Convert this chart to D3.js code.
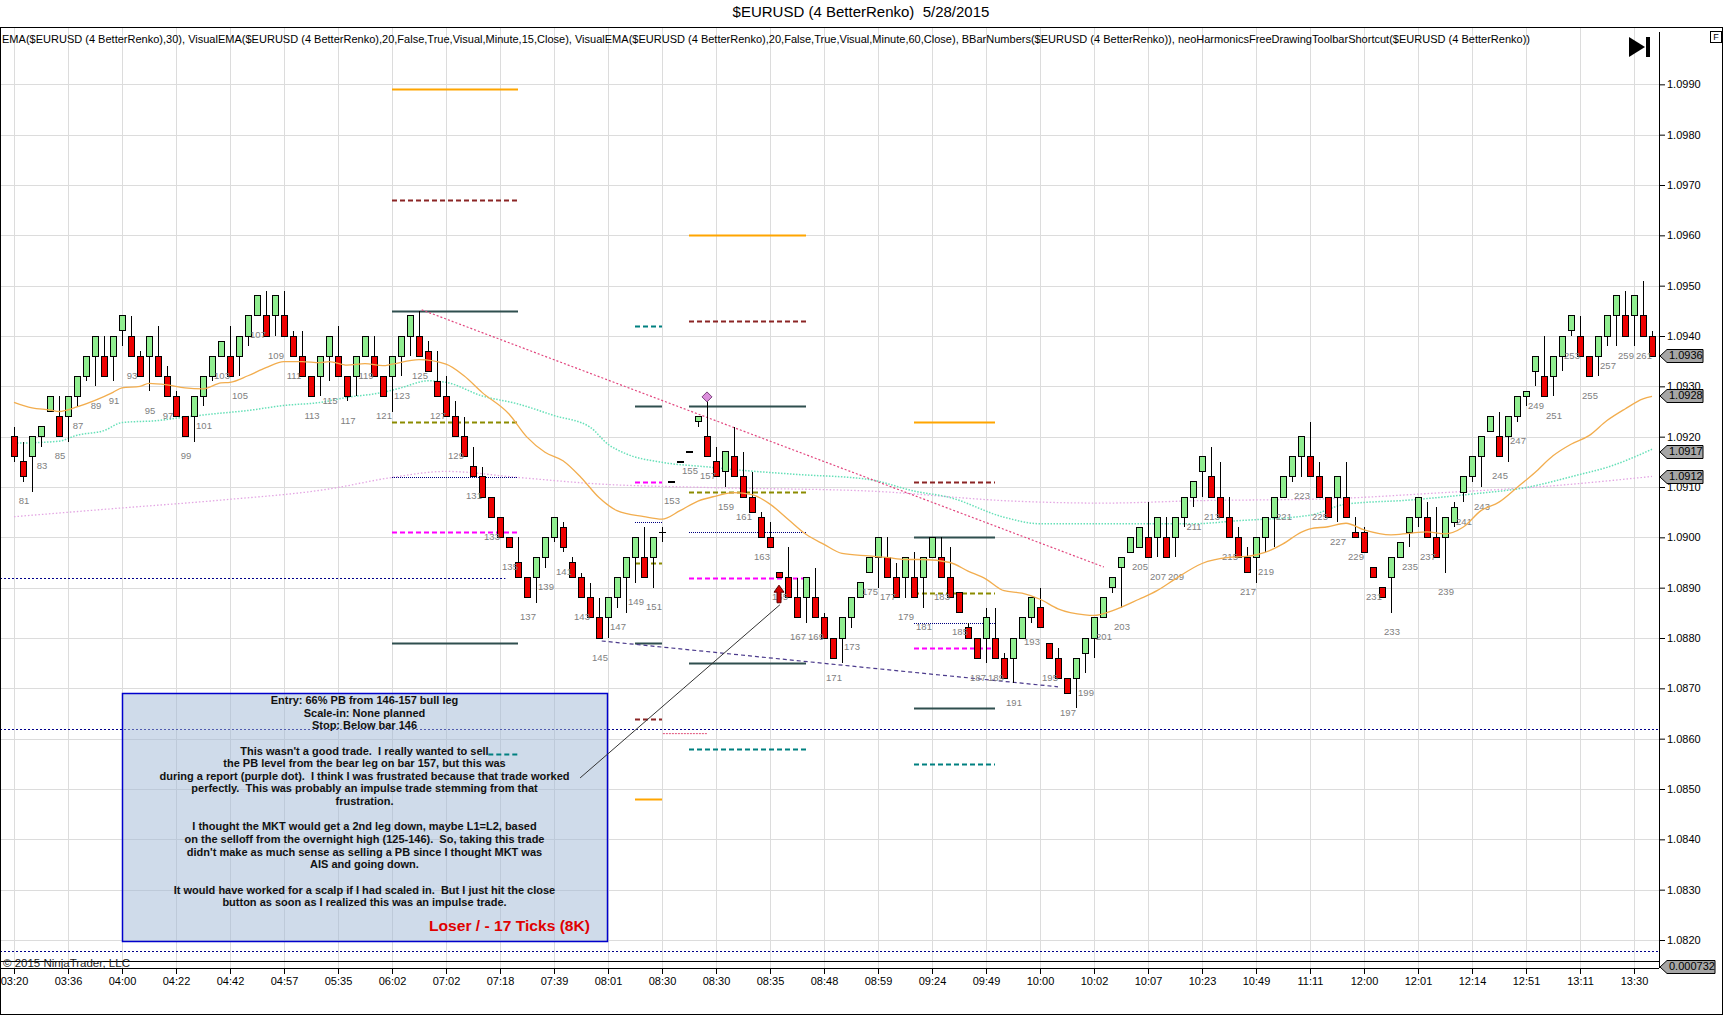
<!DOCTYPE html>
<html>
<head>
<meta charset="utf-8">
<script src="https://cdn.jsdelivr.net/npm/d3@7"></script>
<style>
body { margin: 0; background: #fff; }
text { font-family: "Liberation Sans", Arial, sans-serif; }
</style>
</head>
<body>
<svg id="chart" width="1723" height="1015"></svg>
<script>
// Renko bars 80..262 (open, close, high, low)
const firstBar = 80;
const opens = [1.0920,1.0915,1.0916,1.0920,1.0925,1.0924,1.0924,1.0928,1.0932,1.0936,
1.0936,1.0936,1.0941,1.0940,1.0936,1.0936,1.0936,1.0932,1.0928,1.0924,
1.0924,1.0928,1.0932,1.0936,1.0936,1.0936,1.0940,1.0944,1.0944,1.0944,
1.0944,1.0940,1.0936,1.0932,1.0932,1.0936,1.0936,1.0932,1.0932,1.0936,
1.0936,1.0932,1.0932,1.0936,1.0940,1.0940,1.0937,1.0931,1.0928,1.0924,
1.0920,1.0914,1.0912,1.0908,1.0904,1.0900,1.0895,1.0892,1.0892,1.0896,
1.0900,1.0902,1.0895,1.0892,1.0888,1.0884,1.0884,1.0888,1.0892,1.0896,
1.0896,1.0896,1.0901,1.0911,1.0915,1.0917,1.0923,1.0920,1.0915,1.0913,
1.0916,1.0912,1.0908,1.0904,1.0900,1.0893,1.0892,1.0888,1.0888,1.0888,
1.0884,1.0880,1.0880,1.0884,1.0888,1.0893,1.0896,1.0896,1.0892,1.0892,
1.0892,1.0892,1.0896,1.0896,1.0892,1.0889,1.0882,1.0880,1.0880,1.0880,
1.0876,1.0876,1.0880,1.0884,1.0886,1.0879,1.0876,1.0872,1.0872,1.0877,
1.0880,1.0884,1.0890,1.0894,1.0897,1.0898,1.0900,1.0900,1.0900,1.0900,
1.0904,1.0908,1.0913,1.0912,1.0908,1.0904,1.0900,1.0896,1.0896,1.0900,
1.0904,1.0908,1.0912,1.0916,1.0916,1.0912,1.0908,1.0908,1.0908,1.0901,
1.0901,1.0894,1.0890,1.0892,1.0896,1.0901,1.0904,1.0904,1.0900,1.0900,
1.0903,1.0909,1.0912,1.0916,1.0921,1.0920,1.0920,1.0924,1.0928,1.0933,
1.0932,1.0932,1.0936,1.0941,1.0940,1.0936,1.0936,1.0940,1.0944,1.0944,
1.0944,1.0944,1.0940];
const closes = [1.0916,1.0912,1.0920,1.0922,1.0928,1.0920,1.0928,1.0932,1.0936,1.0940,
1.0932,1.0940,1.0944,1.0936,1.0932,1.0940,1.0932,1.0928,1.0924,1.0920,
1.0928,1.0932,1.0936,1.0939,1.0932,1.0940,1.0944,1.0948,1.0940,1.0948,
1.0940,1.0936,1.0932,1.0928,1.0936,1.0940,1.0932,1.0928,1.0936,1.0940,
1.0932,1.0928,1.0936,1.0940,1.0944,1.0936,1.0933,1.0928,1.0924,1.0920,
1.0916,1.0912,1.0908,1.0904,1.0900,1.0898,1.0892,1.0888,1.0896,1.0900,
1.0904,1.0898,1.0892,1.0888,1.0884,1.0880,1.0888,1.0892,1.0896,1.0900,
1.0892,1.0900,1.0901,1.0911,1.0915,1.0917,1.0924,1.0916,1.0912,1.0917,
1.0912,1.0908,1.0905,1.0900,1.0898,1.0892,1.0888,1.0884,1.0892,1.0884,
1.0880,1.0876,1.0884,1.0888,1.0891,1.0896,1.0900,1.0892,1.0888,1.0896,
1.0888,1.0896,1.0900,1.0892,1.0888,1.0885,1.0880,1.0876,1.0884,1.0876,
1.0872,1.0880,1.0884,1.0888,1.0882,1.0876,1.0872,1.0869,1.0876,1.0880,
1.0884,1.0888,1.0892,1.0896,1.0900,1.0902,1.0896,1.0904,1.0896,1.0904,
1.0908,1.0911,1.0916,1.0908,1.0904,1.0900,1.0896,1.0893,1.0900,1.0904,
1.0908,1.0912,1.0916,1.0920,1.0912,1.0908,1.0904,1.0912,1.0904,1.0900,
1.0897,1.0892,1.0888,1.0896,1.0899,1.0904,1.0908,1.0900,1.0896,1.0904,
1.0906,1.0912,1.0916,1.0920,1.0924,1.0916,1.0924,1.0928,1.0929,1.0936,
1.0928,1.0936,1.0940,1.0944,1.0936,1.0932,1.0940,1.0944,1.0948,1.0940,
1.0948,1.0940,1.0936];
const highs = [1.0922,1.0919,1.0920,1.0922,1.0928,1.0928,1.0928,1.0932,1.0936,1.0940,
1.0940,1.0940,1.0944,1.0944,1.0937,1.0940,1.0942,1.0934,1.0929,1.0924,
1.0928,1.0932,1.0936,1.0939,1.0942,1.0940,1.0944,1.0948,1.0949,1.0948,
1.0949,1.0941,1.0941,1.0932,1.0936,1.0940,1.0942,1.0932,1.0936,1.0940,
1.0940,1.0932,1.0936,1.0940,1.0944,1.0945,1.0939,1.0937,1.0932,1.0927,
1.0924,1.0918,1.0914,1.0908,1.0904,1.0900,1.0900,1.0892,1.0896,1.0900,
1.0904,1.0903,1.0896,1.0893,1.0891,1.0888,1.0888,1.0892,1.0896,1.0900,
1.0902,1.0900,1.0902,1.0911,1.0915,1.0917,1.0924,1.0928,1.0918,1.0917,
1.0922,1.0917,1.0913,1.0905,1.0903,1.0893,1.0898,1.0892,1.0892,1.0894,
1.0885,1.0880,1.0884,1.0888,1.0891,1.0896,1.0900,1.0900,1.0895,1.0896,
1.0897,1.0896,1.0900,1.0900,1.0898,1.0889,1.0883,1.0880,1.0886,1.0886,
1.0877,1.0880,1.0884,1.0888,1.0890,1.0879,1.0878,1.0872,1.0876,1.0880,
1.0884,1.0888,1.0892,1.0896,1.0900,1.0902,1.0907,1.0904,1.0904,1.0904,
1.0908,1.0911,1.0916,1.0918,1.0915,1.0908,1.0902,1.0898,1.0900,1.0904,
1.0908,1.0912,1.0916,1.0920,1.0923,1.0915,1.0908,1.0912,1.0915,1.0904,
1.0902,1.0894,1.0890,1.0896,1.0899,1.0904,1.0908,1.0907,1.0906,1.0904,
1.0907,1.0912,1.0916,1.0920,1.0924,1.0925,1.0924,1.0928,1.0929,1.0936,
1.0940,1.0936,1.0940,1.0944,1.0944,1.0936,1.0940,1.0944,1.0948,1.0949,
1.0948,1.0951,1.0941];
const lows = [1.0915,1.0911,1.0909,1.0918,1.0925,1.0920,1.0919,1.0926,1.0931,1.0930,
1.0932,1.0931,1.0938,1.0936,1.0932,1.0929,1.0932,1.0928,1.0924,1.0920,
1.0919,1.0926,1.0931,1.0936,1.0932,1.0932,1.0938,1.0944,1.0940,1.0940,
1.0940,1.0936,1.0932,1.0928,1.0928,1.0931,1.0932,1.0927,1.0928,1.0936,
1.0932,1.0928,1.0925,1.0932,1.0936,1.0936,1.0933,1.0928,1.0924,1.0920,
1.0916,1.0912,1.0908,1.0904,1.0900,1.0898,1.0892,1.0888,1.0887,1.0894,
1.0899,1.0897,1.0892,1.0888,1.0884,1.0880,1.0880,1.0886,1.0885,1.0891,
1.0892,1.0890,1.0899,1.0911,1.0915,1.0917,1.0922,1.0916,1.0912,1.0910,
1.0912,1.0908,1.0905,1.0900,1.0898,1.0892,1.0888,1.0884,1.0883,1.0884,
1.0880,1.0876,1.0875,1.0882,1.0888,1.0893,1.0890,1.0892,1.0888,1.0888,
1.0888,1.0886,1.0896,1.0892,1.0888,1.0885,1.0880,1.0876,1.0875,1.0876,
1.0872,1.0871,1.0880,1.0883,1.0882,1.0876,1.0872,1.0869,1.0866,1.0873,
1.0876,1.0884,1.0889,1.0886,1.0897,1.0898,1.0896,1.0896,1.0896,1.0896,
1.0902,1.0906,1.0908,1.0908,1.0904,1.0900,1.0896,1.0893,1.0891,1.0897,
1.0898,1.0908,1.0911,1.0912,1.0912,1.0908,1.0904,1.0903,1.0904,1.0900,
1.0897,1.0892,1.0888,1.0885,1.0896,1.0898,1.0902,1.0900,1.0896,1.0893,
1.0902,1.0907,1.0911,1.0910,1.0921,1.0916,1.0915,1.0923,1.0926,1.0930,
1.0928,1.0928,1.0933,1.0940,1.0936,1.0932,1.0932,1.0938,1.0938,1.0940,
1.0938,1.0940,1.0936];

// EMA(30) - orange
const emaBars = [80,82,84,85,87,89,91,92,94,95,97,99,101,103,104,106,108,110,112,114,115,117,119,121,122,125,128,130,132,135,137,139,141,143,145,147,150,152,154,156,158,160,162,164,166,168,170,172,175,177,179,181,184,186,188,190,192,194,196,199,200,202,205,207,209,212,215,217,219,221,223,224,226,228,230,233,235,237,239,241,243,245,247,249,251,253,255,257,259,261,262];
const emaVals = [1.09268,1.09257,1.09253,1.09250,1.09259,1.09272,1.09288,1.09297,1.09300,1.09306,1.09303,1.09297,1.09295,1.09307,1.09308,1.09321,1.09337,1.09349,1.09349,1.09347,1.09349,1.09342,1.09345,1.09341,1.09344,1.09353,1.09344,1.09321,1.09288,1.09245,1.09199,1.09169,1.09152,1.09119,1.09079,1.09053,1.09041,1.09036,1.09053,1.09072,1.09082,1.09089,1.09085,1.09066,1.09036,1.09006,1.08986,1.08968,1.08963,1.08960,1.08956,1.08956,1.08950,1.08933,1.08917,1.08894,1.08889,1.08877,1.08858,1.08846,1.08845,1.08854,1.08877,1.08894,1.08917,1.08948,1.08960,1.08962,1.08970,1.08987,1.09010,1.09017,1.09021,1.09028,1.09015,1.09005,1.09008,1.09011,1.09007,1.09020,1.09053,1.09070,1.09099,1.09129,1.09162,1.09185,1.09202,1.09232,1.09255,1.09275,1.09280];

// VisualEMA 15 min - aquamarine
const ema15Bars = [80,85,87,90,92,96,99,102,106,110,114,117,121,123,126,128,132,136,140,144,146,148,152,157,161,167,175,180,184,190,194,205,211,216,224,228,235,242,248,254,257,262];
const ema15Vals = [1.09187,1.09191,1.09203,1.09212,1.09228,1.09232,1.09239,1.09245,1.09252,1.09262,1.09268,1.09278,1.09288,1.09297,1.09311,1.09308,1.09281,1.09265,1.09242,1.09219,1.09185,1.09166,1.09149,1.09140,1.09133,1.09125,1.09115,1.09092,1.09079,1.09040,1.09027,1.09027,1.09027,1.09033,1.09044,1.09066,1.09074,1.09086,1.09099,1.09125,1.09139,1.09175];

// VisualEMA 60 min - plum
const ema60Bars = [80,91,103,115,122,128,136,145,157,175,191,201,212,225,239,250,262];
const ema60Vals = [1.09041,1.09057,1.09074,1.09096,1.09119,1.09131,1.09119,1.09106,1.09099,1.09092,1.09072,1.09068,1.09073,1.09076,1.09089,1.09101,1.09121];

// small indicator panel
const indBars = [80,100,120,140,160,180,200,220,240,262];
const indVals = [0.00075,0.00072,0.00078,0.00074,0.00080,0.00071,0.00076,0.00073,0.00077,0.000732];

const timeLabels = ["03:20","03:36","04:00","04:22","04:42","04:57","05:35","06:02","07:02","07:18","07:39","08:01","08:30","08:30","08:35","08:48","08:59","09:24","09:49","10:00","10:02","10:07","10:23","10:49","11:11","12:00","12:01","12:14","12:51","13:11","13:30"];
const priceTicks = d3.range(1.0820, 1.09905, 0.001);

// drawn level groups, prices listed in the order of levelKinds
const levelKinds = ["orange","darkred","black","olive","navy","magenta","black","teal"];
const levelGroups = [
  { from: 122, to: 136, prices: [1.0989,1.0967,1.0945,1.0923,1.0912,1.0901,1.0879,1.0857] },
  { from: 149, to: 152, prices: [1.0848,1.0864,1.0879,1.0895,1.0903,1.0911,1.0926,1.0942] },
  { from: 155, to: 168, prices: [1.0960,1.0943,1.0926,1.0909,1.0901,1.0892,1.0875,1.0858] },
  { from: 180, to: 189, prices: [1.0923,1.0911,1.0900,1.0889,1.0883,1.0878,1.0866,1.0855] }
];
const longLevels = [[78, 134.6, 1.0892], [78, 265, 1.0862], [78, 265, 1.08178]];
const trendLines = [[125.3, 1.09452, 201.1, 1.08941], [145.3, 1.08794, 196, 1.08703], [142.9, 1.08522, 165.1, 1.08866]];
const tagValues = [1.0936, 1.0928, 1.0917, 1.0912];

const boxLines = [
  "Entry: 66% PB from 146-157 bull leg",
  "Scale-in: None planned",
  "Stop: Below bar 146",
  "",
  "This wasn't a good trade.  I really wanted to sell",
  "the PB level from the bear leg on bar 157, but this was",
  "during a report (purple dot).  I think I was frustrated because that trade worked",
  "perfectly.  This was probably an impulse trade stemming from that",
  "frustration.",
  "",
  "I thought the MKT would get a 2nd leg down, maybe L1=L2, based",
  "on the selloff from the overnight high (125-146).  So, taking this trade",
  "didn't make as much sense as selling a PB since I thought MKT was",
  "AIS and going down.",
  "",
  "It would have worked for a scalp if I had scaled in.  But I just hit the close",
  "button as soon as I realized this was an impulse trade."
];

const bars = opens.map((o, i) => ({ n: firstBar + i, o, c: closes[i], h: highs[i], l: lows[i] }));

const svg = d3.select("#chart");
const panelRight = 1659, panelTop = 28, panelBottom = 961, axisY = 968;

const x = d3.scaleLinear().domain([80, 262]).range([14, 1652]);
const y = d3.scaleLinear().domain([1.0820, 1.0940]).range([940, 336]);
const yInd = d3.scaleLinear().domain([0, 0.003]).range([968, 961]);

svg.append("defs").append("clipPath").attr("id", "panel")
  .append("rect").attr("x", 0).attr("y", panelTop).attr("width", panelRight).attr("height", panelBottom - panelTop);

// title
svg.append("text").attr("x", 861).attr("y", 13).attr("text-anchor", "middle")
  .attr("dominant-baseline", "middle").style("font-size", "15px").style("white-space", "pre")
  .text("$EURUSD (4 BetterRenko)  5/28/2015");

// grid
const tickBars = timeLabels.map((d, i) => firstBar + i * 6);
const grid = svg.append("g").attr("stroke", "#dcdcdc").attr("stroke-width", 1).attr("shape-rendering", "crispEdges");
grid.selectAll(".gx").data(tickBars).enter().append("line")
  .attr("x1", d => Math.round(x(d)) + 0.5).attr("x2", d => Math.round(x(d)) + 0.5)
  .attr("y1", panelTop).attr("y2", axisY);
grid.selectAll(".gy").data(priceTicks).enter().append("line")
  .attr("x1", 0).attr("x2", panelRight)
  .attr("y1", d => Math.round(y(d)) + 0.5).attr("y2", d => Math.round(y(d)) + 0.5);

// indicator header
svg.append("text").attr("x", 2).attr("y", 40).attr("dominant-baseline", "middle")
  .style("font-size", "11px").attr("textLength", 1528).attr("lengthAdjust", "spacingAndGlyphs")
  .text("EMA($EURUSD (4 BetterRenko),30), VisualEMA($EURUSD (4 BetterRenko),20,False,True,Visual,Minute,15,Close), VisualEMA($EURUSD (4 BetterRenko),20,False,True,Visual,Minute,60,Close), BBarNumbers($EURUSD (4 BetterRenko)), neoHarmonicsFreeDrawingToolbarShortcut($EURUSD (4 BetterRenko))");

const plot = svg.append("g").attr("clip-path", "url(#panel)");

// long dotted navy levels
plot.selectAll(".long").data(longLevels).enter().append("line")
  .attr("x1", d => x(d[0])).attr("x2", d => x(d[1]))
  .attr("y1", d => Math.round(y(d[2])) + 0.5).attr("y2", d => Math.round(y(d[2])) + 0.5)
  .attr("stroke", "#00008b").attr("stroke-width", 1).attr("stroke-dasharray", "2,2");

// text box
plot.append("rect").attr("x", 122.5).attr("y", 693.5).attr("width", 485).attr("height", 248)
  .attr("fill", "#9fb8d6").attr("fill-opacity", 0.5).attr("stroke", "#0000cc").attr("stroke-width", 1.5);

// higher timeframe EMAs
const line = d3.line().x(d => x(d[0])).y(d => y(d[1]));
plot.append("path").datum(ema60Bars.map((b, i) => [b, ema60Vals[i]]))
  .attr("d", line.curve(d3.curveMonotoneX)).attr("fill", "none")
  .attr("stroke", "#e3a6e3").attr("stroke-width", 1.3).attr("stroke-dasharray", "1.5,2");
plot.append("path").datum(ema15Bars.map((b, i) => [b, ema15Vals[i]]))
  .attr("d", line.curve(d3.curveMonotoneX)).attr("fill", "none")
  .attr("stroke", "#66e0b8").attr("stroke-width", 1.5).attr("stroke-dasharray", "1.5,1.5");

// level groups
const kindStyle = {
  orange: { c: "#ffa500", w: 2, dash: null },
  darkred: { c: "#8b2525", w: 2, dash: "5,3" },
  black: { c: "#2f4f4f", w: 2, dash: null },
  olive: { c: "#8b8b00", w: 2, dash: "5,3" },
  navy: { c: "#000080", w: 1, dash: "1,1" },
  magenta: { c: "#ff00ff", w: 2, dash: "5,3" },
  teal: { c: "#008080", w: 2, dash: "5,3" }
};
levelGroups.forEach((g, gi) => {
  plot.selectAll(".lv" + gi).data(g.prices).enter().append("line")
    .attr("x1", (d, i) => x(gi === 0 && levelKinds[i] === "teal" ? 132.7 : g.from))
    .attr("x2", x(g.to))
    .attr("y1", d => Math.round(y(d)) + 0.5).attr("y2", d => Math.round(y(d)) + 0.5)
    .attr("stroke", (d, i) => kindStyle[levelKinds[i]].c)
    .attr("stroke-width", (d, i) => kindStyle[levelKinds[i]].w)
    .attr("stroke-dasharray", (d, i) => kindStyle[levelKinds[i]].dash);
});
// small salmon dotted level after group 2
plot.append("line").attr("x1", x(152.1)).attr("x2", x(157)).attr("y1", y(1.0861)).attr("y2", y(1.0861))
  .attr("stroke", "#e0507a").attr("stroke-width", 1).attr("stroke-dasharray", "2,1");

// trend lines
const trendStyle = [["#e2457e", "2,2", 1.2], ["#4b3a8c", "4,3", 1.2], ["#333", null, 1]];
plot.selectAll(".trend").data(trendLines).enter().append("line")
  .attr("x1", d => x(d[0])).attr("y1", d => y(d[1])).attr("x2", d => x(d[2])).attr("y2", d => y(d[3]))
  .attr("stroke", (d, i) => trendStyle[i][0]).attr("stroke-dasharray", (d, i) => trendStyle[i][1])
  .attr("stroke-width", (d, i) => trendStyle[i][2]);

// renko bars
const barG = plot.append("g").attr("shape-rendering", "crispEdges");
barG.selectAll(".wick").data(bars).enter().append("line")
  .attr("x1", d => Math.round(x(d.n)) + 0.5).attr("x2", d => Math.round(x(d.n)) + 0.5)
  .attr("y1", d => y(d.h)).attr("y2", d => y(d.l)).attr("stroke", "#000");
barG.selectAll(".body").data(bars).enter().append("rect")
  .attr("x", d => Math.round(x(d.n)) - 2.5)
  .attr("y", d => y(Math.max(d.o, d.c)))
  .attr("width", 6)
  .attr("height", d => Math.max(0.5, y(Math.min(d.o, d.c)) - y(Math.max(d.o, d.c))))
  .attr("fill", d => d.c > d.o ? "#90ee90" : d.c < d.o ? "#ee0000" : "#000")
  .attr("stroke", "#000").attr("stroke-width", 1);

// bar numbers on odd bars
plot.selectAll(".num").data(bars.filter(d => d.n % 2 === 1)).enter().append("text")
  .attr("x", d => x(d.n) + 1).attr("y", d => y(d.l) + 20)
  .attr("text-anchor", "middle").attr("dominant-baseline", "middle")
  .style("font-size", "9.5px").attr("fill", "#808080").text(d => d.n);

// EMA 30 on top
plot.append("path").datum(emaBars.map((b, i) => [b, emaVals[i]]))
  .attr("d", line.curve(d3.curveMonotoneX)).attr("fill", "none")
  .attr("stroke", "#f2ad4e").attr("stroke-width", 1.3);

// report dot + entry arrow
const dx = x(157), dy = y(1.09279);
plot.append("path").attr("d", `M${dx},${dy - 5}L${dx + 5},${dy}L${dx},${dy + 5}L${dx - 5},${dy}Z`)
  .attr("fill", "#dc8fdc").attr("stroke", "#7a3f7a");
const ax = x(165), at = y(1.08905), ab = y(1.0887);
plot.append("path")
  .attr("d", `M${ax},${at}L${ax + 5},${at + 7}L${ax + 2},${at + 7}L${ax + 2},${ab}L${ax - 2},${ab}L${ax - 2},${at + 7}L${ax - 5},${at + 7}Z`)
  .attr("fill", "#d00000").attr("stroke", "#500");

// box text
plot.selectAll(".boxtxt").data(boxLines).enter().append("text")
  .attr("x", 364.5).attr("y", (d, i) => 701 + i * 12.65)
  .attr("text-anchor", "middle").attr("dominant-baseline", "middle")
  .style("font-size", "11px").style("font-weight", "bold").style("white-space", "pre")
  .attr("fill", "#111").text(d => d);
plot.append("text").attr("x", 590).attr("y", 927).attr("text-anchor", "end").attr("dominant-baseline", "middle")
  .style("font-size", "15px").style("font-weight", "bold").attr("fill", "#e00000")
  .attr("textLength", 161).attr("lengthAdjust", "spacingAndGlyphs")
  .text("Loser / - 17 Ticks (8K)");

// indicator panel line
plot.append("path").datum(indBars.map((b, i) => [b, indVals[i]]))
  .attr("d", d3.line().x(d => x(d[0])).y(d => yInd(d[1])).curve(d3.curveMonotoneX))
  .attr("fill", "none").attr("stroke", "#1a8a1a").attr("stroke-width", 1.3);

// frame lines
const frame = svg.append("g").attr("stroke", "#000").attr("shape-rendering", "crispEdges");
frame.append("rect").attr("x", 0.5).attr("y", 27.5).attr("width", 1722).attr("height", 986.5).attr("fill", "none");
frame.append("line").attr("x1", panelRight + 0.5).attr("x2", panelRight + 0.5).attr("y1", 32).attr("y2", axisY);
frame.append("line").attr("x1", 0).attr("x2", panelRight).attr("y1", panelBottom + 0.5).attr("y2", panelBottom + 0.5);
frame.append("line").attr("x1", 0).attr("x2", panelRight).attr("y1", axisY + 0.5).attr("y2", axisY + 0.5);

svg.append("text").attr("x", 3).attr("y", 967).style("font-size", "11.5px").attr("fill", "#222")
  .text("\u00a9 2015 NinjaTrader, LLC");

// right price axis
const yAxis = svg.append("g").attr("transform", `translate(${panelRight},0)`)
  .call(d3.axisRight(y).tickValues(priceTicks).tickFormat(d3.format(".4f")).tickSize(6).tickPadding(2));
yAxis.select(".domain").remove();
yAxis.selectAll("text").style("font-size", "11px").attr("fill", "#000");

// bottom time axis
const xAxis = svg.append("g").attr("transform", `translate(0,${axisY})`)
  .call(d3.axisBottom(x).tickValues(tickBars).tickFormat((d, i) => timeLabels[i]).tickSize(6).tickPadding(3));
xAxis.select(".domain").remove();
xAxis.selectAll("text").style("font-size", "11px").attr("fill", "#000");

// price tags
function tag(yc, label, w) {
  const g = svg.append("g");
  g.append("path").attr("d", `M${panelRight + 1},${yc}L${panelRight + 8},${yc - 6.5}L${panelRight + w},${yc - 6.5}L${panelRight + w},${yc + 6.5}L${panelRight + 8},${yc + 6.5}Z`)
    .attr("fill", "#a6a6a6").attr("stroke", "#000");
  g.append("text").attr("x", panelRight + 10).attr("y", yc + 0.5).attr("dominant-baseline", "middle")
    .style("font-size", "11px").attr("fill", "#000").text(label);
}
tagValues.forEach(v => tag(Math.round(y(v)), v.toFixed(4), 44));
tag(967, indVals[indVals.length - 1].toFixed(6), 56);

// navigation glyphs
svg.append("path").attr("d", "M1629,37L1645,47L1629,57Z").attr("fill", "#000");
svg.append("rect").attr("x", 1646).attr("y", 37).attr("width", 4).attr("height", 20).attr("fill", "#000");
svg.append("rect").attr("x", 1710.5).attr("y", 31.5).attr("width", 11).attr("height", 11).attr("fill", "#fff").attr("stroke", "#000");
svg.append("text").attr("x", 1716).attr("y", 37.5).attr("text-anchor", "middle").attr("dominant-baseline", "middle")
  .style("font-size", "9px").text("F");
</script>
</body>
</html>
